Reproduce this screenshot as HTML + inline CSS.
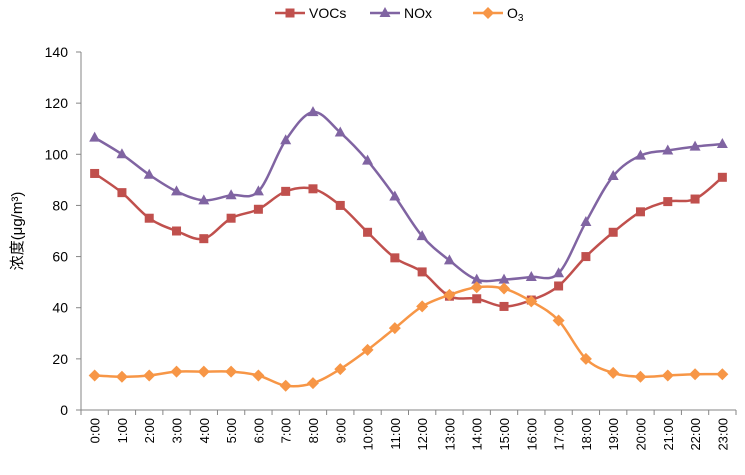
<!DOCTYPE html>
<html><head><meta charset="utf-8"><style>
body{margin:0;background:#fff;}
svg text{font-family:"Liberation Sans","Noto Sans CJK SC",sans-serif;}
</style></head><body>
<svg id="c" width="745" height="470">
</svg>
<script>
const categories=["0:00","1:00","2:00","3:00","4:00","5:00","6:00","7:00","8:00","9:00","10:00","11:00","12:00","13:00","14:00","15:00","16:00","17:00","18:00","19:00","20:00","21:00","22:00","23:00"];
const vocs=[92.5,85,75,70,67,75,78.5,85.5,86.5,80,69.5,59.5,54,44.5,43.5,40.5,43,48.5,60,69.5,77.5,81.5,82.5,91];
const nox=[106.5,100,92,85.5,82,84,85.5,105.5,116.5,108.5,97.5,83.5,68,58.5,51,51,52,53.5,73.5,91.5,99.5,101.5,103,104];
const o3=[13.5,13,13.5,15,15,15,13.5,9.5,10.5,16,23.5,32,40.5,45,48,47.5,42.5,35,20,14.5,13,13.5,14,14];
const yTicks=[0,20,40,60,80,100,120,140];
const NS="http://www.w3.org/2000/svg";
const svg=document.getElementById('c');
const L=81,R=736,T=52,B=410,yMax=140;
const step=(R-L)/categories.length;
function x(i){return L+step*(i+0.5);}
function y(v){return B-(v/yMax)*(B-T);}
function mk(tag,attrs,parent){const e=document.createElementNS(NS,tag);for(const k in attrs)e.setAttribute(k,attrs[k]);(parent||svg).appendChild(e);return e;}
// axes
let ax=mk('line',{x1:L,y1:T,x2:L,y2:B,stroke:'#868686'});


let xa=mk('line',{x1:L,y1:B,x2:R,y2:B,stroke:'#868686'});


yTicks.forEach(v=>{
 mk('line',{x1:L-5,y1:y(v),x2:L,y2:y(v),stroke:'#868686'});
 const t=mk('text',{x:L-13,y:y(v)+5,'text-anchor':'end','font-size':14,fill:'#000'});
 t.textContent=v;
 
 
});
for(let i=0;i<=categories.length;i++){mk('line',{x1:L+step*i,y1:B,x2:L+step*i,y2:B+5,stroke:'#868686'});}
categories.forEach((c,i)=>{
 const t=mk('text',{x:0,y:0,'text-anchor':'end','font-size':13,fill:'#000',transform:`translate(${x(i)+5},${B+8}) rotate(-90)`});
 t.textContent=c;
 
 
});
const yt=mk('text',{x:0,y:0,'text-anchor':'middle','font-size':15,fill:'#000',transform:`translate(22,231) rotate(-90)`});
yt.textContent='浓度(μg/m³)';


function pathD(vals){
 const p=vals.map((v,i)=>[x(i),y(v)]);
 let d=`M${p[0][0]},${p[0][1]}`;
 for(let i=0;i<p.length-1;i++){
  const p0=p[i-1]||p[i],p1=p[i],p2=p[i+1],p3=p[i+2]||p[i+1];
  const c1=[p1[0]+(p2[0]-p0[0])/6,p1[1]+(p2[1]-p0[1])/6];
  const c2=[p2[0]-(p3[0]-p1[0])/6,p2[1]-(p3[1]-p1[1])/6];
  d+=` C${c1[0]},${c1[1]} ${c2[0]},${c2[1]} ${p2[0]},${p2[1]}`;
 }
 return d;
}
function marker(type,cx,cy,color,g){
 if(type==='sq')return mk('rect',{x:cx-4.5,y:cy-4.5,width:9,height:9,fill:color},g);
 if(type==='tri')return mk('polygon',{points:`${cx},${cy-6} ${cx+5.5},${cy+4} ${cx-5.5},${cy+4}`,fill:color},g);
 return mk('polygon',{points:`${cx},${cy-6} ${cx+6},${cy} ${cx},${cy+6} ${cx-6},${cy}`,fill:color},g);
}
const series=[["vocs",vocs,'#C0504D','sq'],["nox",nox,'#8064A2','tri'],["o3",o3,'#F79646','dia']];
series.forEach(([n,vals,col,m])=>{
 const g=mk('g',{});
 
 
 mk('path',{d:pathD(vals),fill:'none',stroke:col,'stroke-width':2.5},g);
 vals.forEach((v,i)=>{const e=marker(m,x(i),y(v),col,g);
  
  });
});
// legend
const leg=[["VOCs",'#C0504D','sq',275],["NOx",'#8064A2','tri',370],["O",'#F79646','dia',473]];
leg.forEach(([lab,col,m,lx])=>{
 const g=mk('g',{});
 
 
 mk('line',{x1:lx,y1:13,x2:lx+30,y2:13,stroke:col,'stroke-width':2.5},g);
 marker(m,lx+15,13,col,g);
 const t=mk('text',{x:lx+34,y:18,'font-size':14,fill:'#000'},g);
 t.textContent=lab;
 if(lab==='O'){const s=mk('tspan',{'font-size':10,dy:3},t);s.textContent='3';}
});
</script>
</body></html>
